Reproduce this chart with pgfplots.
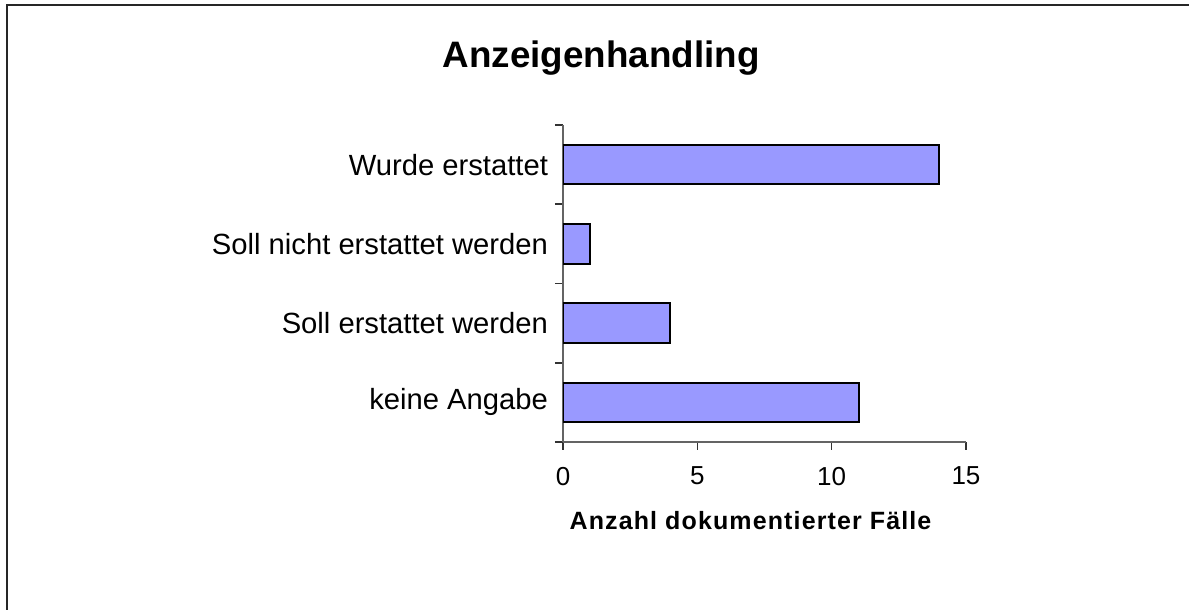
\documentclass[border=0pt]{standalone}
\usepackage{fontspec}
\setmainfont{Liberation Sans}
\usepackage{pgfplots}
\pgfplotsset{compat=1.18}
\definecolor{barblue}{RGB}{153,153,255}
\definecolor{axisgray}{RGB}{100,100,100}

\begin{document}
\begin{tikzpicture}
% picture area: 1189 x 610 px at 0.5pt per px
\useasboundingbox (0,0) rectangle (594.5pt,305pt);
\draw[line width=1pt, black!85] (3.25pt,0) -- (3.25pt,302.25pt) -- (594.5pt,302.25pt);
\node[font=\fontsize{18.4}{22}\selectfont\bfseries] at (300.5pt,276pt) {Anzeigenhandling};

\begin{axis}[
    at={(281.5pt,84pt)}, anchor=south west,
    scale only axis,
    width=201.5pt, height=158.5pt,
    xbar, bar width=0.5,
    xmin=0, xmax=15,
    ymin=-0.5, ymax=3.5,
    axis lines*=left,
    axis line style={axisgray, line width=0.8pt},
    tick align=outside,
    major tick length=4pt, minor tick length=4pt,
    tick style={black!80, line width=0.8pt},
    xtick={0,5,10,15},
    ytick={-0.5,0.5,1.5,2.5,3.5},
    yticklabels={},
    extra y ticks={0,1,2,3},
    extra y tick labels={keine Angabe, Soll erstattet werden, Soll nicht erstattet werden, Wurde erstattet},
    extra y tick style={major tick length=0pt, yticklabel style={xshift=-4pt}},
    /pgf/number format/assume math mode=true,
    xticklabel style={font=\fontsize{13}{15}\selectfont, yshift=-5pt},
    yticklabel style={font=\fontsize{14.6}{17}\selectfont},
    xlabel={\addfontfeature{LetterSpace=4.5}Anzahl dokumentierter Fälle},
    xlabel style={font=\fontsize{12.5}{15}\selectfont\bfseries, xshift=-7pt, yshift=-6pt},
]
\addplot[fill=barblue, draw=black, line width=1pt] coordinates {
    (11,0) (4,1) (1,2) (14,3)
};
\end{axis}
\end{tikzpicture}
\end{document}
